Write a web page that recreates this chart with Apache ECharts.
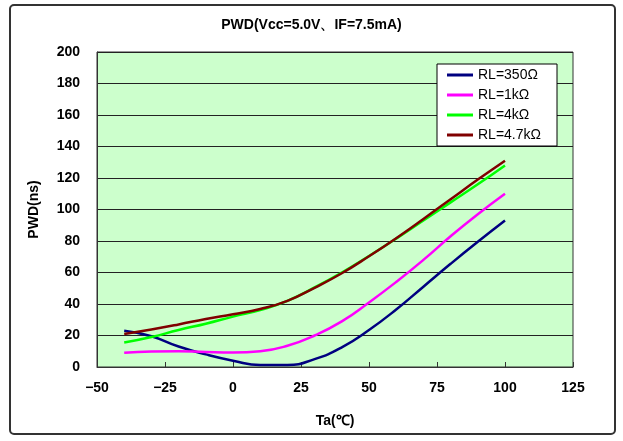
<!DOCTYPE html>
<html><head><meta charset="utf-8">
<script src="https://cdn.jsdelivr.net/npm/echarts@6/dist/echarts.min.js"></script>
<style>html,body{margin:0;padding:0;background:#fff}#c{width:623px;height:441px}</style>
</head><body><div id="c"></div>
<script>
const temps = [-40,-30,-20,-10,0,10,20,30,40,50,60,70,80,90,100];
const rl350 = [23,19.5,13,8,4,1.2,1.2,5,12.5,23.5,36.5,51,65.5,79.5,93];
const rl1k  = [9,9.8,10,9.5,9.2,10,13.5,20,29,41,54,68,83,97,110];
const rl4k  = [15.5,19,23.5,27.5,32,36.2,42,50.5,60,70.5,81.5,93,104.5,116,128];
const rl47k = [21,23.8,27,30.5,33.5,36.8,42,50.3,59.5,70.3,81.8,94,106.5,119,131];
const names = ['RL=350Ω','RL=1kΩ','RL=4kΩ','RL=4.7kΩ'];
const colors = ['#000080','#FF00FF','#00FF00','#800000'];
const xTicks = {min:-50,max:125,step:25};
const yTicks = {min:0,max:200,step:20};

const chart = echarts.init(document.getElementById('c'));
const font = 'Liberation Sans, Arial, sans-serif';
const all = [rl350, rl1k, rl4k, rl47k];
chart.setOption({
  animation:false,
  backgroundColor:'#fff',
  graphic:[{type:'rect',shape:{x:10,y:5,width:605,height:429,r:4},style:{fill:'none',stroke:'#333',lineWidth:2},z:-1}],
  title:{text:'PWD(Vcc=5.0V、IF=7.5mA)',left:'center',top:13,textStyle:{fontFamily:font,fontSize:14,fontWeight:'bold',color:'#000'}},
  grid:{left:97,right:50,top:52,bottom:74,show:true,backgroundColor:'#CCFFCC',borderColor:'#333',borderWidth:1},
  legend:{orient:'vertical',left:437,top:64,backgroundColor:'#fff',borderColor:'#000',borderWidth:1,padding:[4,16,4,10],
    icon:'rect',itemWidth:26,itemHeight:3,itemGap:6,data:names,
    textStyle:{fontFamily:font,fontSize:14,color:'#000',lineHeight:13,padding:[0,0,0,0]}},
  xAxis:{type:'value',min:xTicks.min,max:xTicks.max,interval:xTicks.step,name:'Ta(℃)',nameLocation:'middle',nameGap:47,
    nameTextStyle:{fontFamily:font,fontSize:14,fontWeight:'bold',color:'#000'},
    axisLine:{onZero:false,lineStyle:{color:'#333'}},axisTick:{inside:true,length:5,lineStyle:{color:'#333'}},
    axisLabel:{fontFamily:font,fontSize:14,fontWeight:'bold',color:'#000',margin:14,formatter:v=>v<0?'−'+(-v):''+v},
    splitLine:{show:false}},
  yAxis:{type:'value',min:yTicks.min,max:yTicks.max,interval:yTicks.step,name:'PWD(ns)',nameLocation:'middle',nameGap:56,
    nameTextStyle:{fontFamily:font,fontSize:14,fontWeight:'bold',color:'#000'},
    axisLine:{show:true,onZero:false,lineStyle:{color:'#333'}},axisTick:{show:false},
    axisLabel:{fontFamily:font,fontSize:14,fontWeight:'bold',color:'#000',margin:17},
    splitLine:{lineStyle:{color:'#222',width:1}}},
  series: all.map((arr,i)=>({name:names[i],type:'line',smooth:0.5,showSymbol:false,symbol:'none',
    lineStyle:{width:2.5,color:colors[i]},itemStyle:{color:colors[i]},
    data:temps.map((t,j)=>[t,arr[j]])}))
});
</script></body></html>
